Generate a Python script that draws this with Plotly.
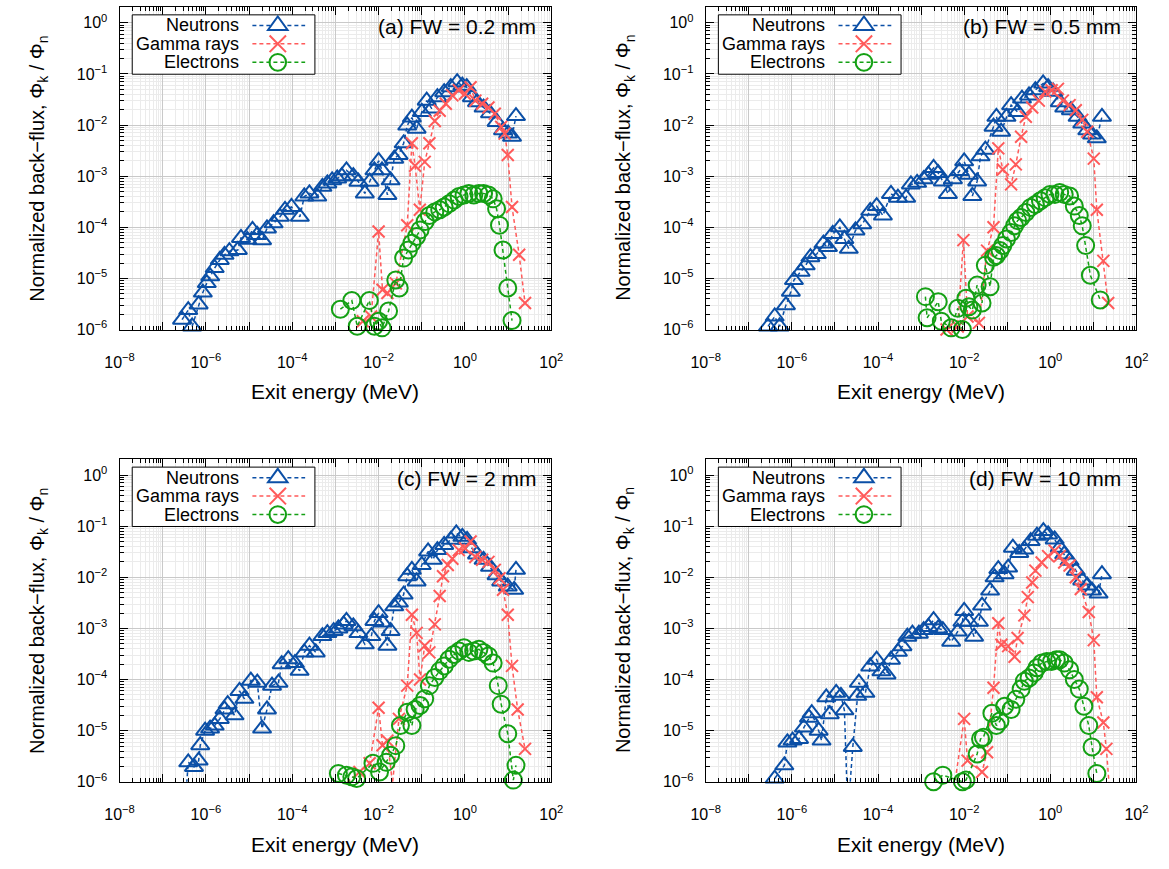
import plotly.graph_objects as go

# ---------------- data ----------------
# Panel (a) FW = 0.2 mm
a_neu_E = [2.8e-7, 3.9e-7, 4.8e-7, 6.8e-7, 8.5e-7, 1.05e-6, 1.26e-6, 1.6e-6, 2.1e-6, 2.7e-6,
           3.5e-6, 5.5e-6, 6.5e-6, 9.1e-6, 1.2e-5, 1.55e-5, 2.0e-5, 2.6e-5, 3.7e-5, 5.2e-5,
           6.8e-5, 9.6e-5, 1.5e-4, 1.9e-4, 2.5e-4, 3.8e-4, 5.0e-4, 6.5e-4, 8.4e-4, 1.1e-3,
           1.4e-3, 1.8e-3, 2.6e-3, 3.4e-3, 4.8e-3, 6.2e-3, 8.0e-3, 1.0e-2, 1.2e-2, 1.6e-2,
           1.9e-2, 2.3e-2, 2.9e-2, 3.8e-2, 4.6e-2, 5.9e-2, 7.6e-2, 0.10, 0.13, 0.17,
           0.23, 0.33, 0.47, 0.66, 0.87, 1.1, 1.45, 1.9, 2.7, 3.8,
           5.4, 7.6, 10.0, 12.3, 15.2]
a_neu_F = [1.56e-6, 2.4e-6, 1.15e-6, 3.1e-6, 5.3e-6, 8.1e-6, 1.1e-5, 1.6e-5, 2.3e-5, 2.9e-5,
           3.4e-5, 3.6e-5, 6.2e-5, 5.7e-5, 8.9e-5, 7.1e-5, 5.6e-5, 9.5e-5, 1.2e-4, 1.6e-4,
           2.2e-4, 2.5e-4, 1.6e-4, 4.0e-4, 4.6e-4, 4.0e-4, 6.2e-4, 7.2e-4, 8.3e-4, 9.0e-4,
           1.0e-3, 1.3e-3, 1.0e-3, 7.8e-4, 4.6e-4, 7.8e-4, 1.3e-3, 2.0e-3, 1.3e-3, 4.3e-4,
           8.3e-4, 2.2e-3, 2.6e-3, 4.4e-3, 9.8e-3, 1.4e-2, 8.5e-3, 1.8e-2, 3.0e-2, 2.1e-2,
           3.5e-2, 4.4e-2, 5.5e-2, 6.9e-2, 5.9e-2, 5.5e-2, 3.5e-2, 2.8e-2, 2.2e-2, 1.7e-2,
           1.15e-2, 7.9e-3, 6.8e-3, 5.9e-3, 1.5e-2]
a_gam_E = [4.3e-3, 6.7e-3, 1.0e-2, 1.23e-2, 1.6e-2, 2.5e-2, 4.6e-2, 5.9e-2, 7.0e-2, 9.0e-2,
           0.117, 0.15, 0.2, 0.26, 0.36, 0.51, 0.72, 1.0, 1.35, 1.74,
           2.5, 3.5, 4.9, 6.9, 8.3, 9.8, 12.3, 18.0, 24.6]
a_gam_F = [1.45e-6, 1.8e-6, 8.3e-5, 6.0e-6, 5.2e-6, 8.0e-6, 1.1e-4, 4.4e-3, 1.6e-3, 2.2e-4,
           1.9e-3, 4.4e-3, 1.2e-2, 1.9e-2, 2.6e-2, 3.8e-2, 4.8e-2, 4.1e-2, 5.5e-2, 3.0e-2,
           2.6e-2, 2.2e-2, 1.66e-2, 9.2e-3, 6.8e-3, 2.6e-3, 2.5e-4, 2.9e-5, 3.3e-6]
a_ele_E = [1.3e-3, 2.4e-3, 3.2e-3, 6.1e-3, 8.0e-3, 1.0e-2, 1.2e-2, 1.7e-2, 2.5e-2, 3.0e-2,
           3.8e-2, 4.9e-2, 5.9e-2, 7.6e-2, 9.1e-2, 0.12, 0.15, 0.2, 0.26, 0.33,
           0.43, 0.56, 0.73, 0.95, 1.23, 1.6, 2.1, 2.7, 3.5, 4.5,
           5.4, 6.3, 7.6, 9.8, 12.3]
a_ele_F = [2.5e-6, 3.7e-6, 1.16e-6, 3.7e-6, 1.16e-6, 1.45e-6, 1.08e-6, 2.3e-6, 9.3e-6, 6.5e-6,
           2.5e-5, 3.6e-5, 4.9e-5, 6.6e-5, 8.9e-5, 1.3e-4, 1.7e-4, 2.0e-4, 2.2e-4, 2.5e-4,
           2.9e-4, 3.4e-4, 4.0e-4, 4.3e-4, 4.6e-4, 4.3e-4, 4.6e-4, 4.6e-4, 4.3e-4, 3.6e-4,
           2.3e-4, 1.1e-4, 3.6e-5, 6.5e-6, 1.5e-6]

# Panel (b) FW = 0.5 mm
b_neu_E = [2.8e-7, 4.0e-7, 5.2e-7, 7.3e-7, 9.5e-7, 1.12e-6, 1.6e-6, 2.1e-6, 2.7e-6, 3.8e-6,
           5.4e-6, 6.9e-6, 8.9e-6, 1.3e-5, 1.66e-5, 2.1e-5, 3.0e-5, 4.3e-5, 6.6e-5, 9.3e-5,
           1.3e-4, 2.0e-4, 2.9e-4, 4.5e-4, 5.8e-4, 8.1e-4, 1.15e-3, 1.48e-3, 1.95e-3, 2.5e-3,
           3.2e-3, 4.2e-3, 5.5e-3, 7.8e-3, 1.0e-2, 1.29e-2, 1.55e-2, 2.0e-2, 2.4e-2, 3.1e-2,
           4.8e-2, 5.6e-2, 7.2e-2, 9.6e-2, 0.123, 0.174, 0.22, 0.32, 0.45, 0.68,
           0.89, 1.17, 1.66, 2.1, 3.0, 4.3, 5.5, 7.2, 9.3, 12.0, 15.8]
b_neu_F = [1.15e-6, 1.8e-6, 1.15e-6, 3.0e-6, 5.5e-6, 9.3e-6, 1.35e-5, 1.8e-5, 2.6e-5, 3.0e-5,
           4.8e-5, 4.1e-5, 7.4e-5, 1.0e-4, 5.9e-5, 3.8e-5, 8.7e-5, 1.15e-4, 2.1e-4, 2.6e-4,
           1.7e-4, 4.5e-4, 3.8e-4, 3.8e-4, 6.9e-4, 7.4e-4, 8.7e-4, 1.07e-3, 1.45e-3, 1.15e-3,
           7.9e-4, 4.5e-4, 8.7e-4, 1.26e-3, 1.95e-3, 1.07e-3, 4.1e-4, 7.9e-4, 2.45e-3, 3.3e-3,
           9.3e-3, 1.45e-2, 7.4e-3, 1.45e-2, 2.45e-2, 1.8e-2, 3.3e-2, 3.8e-2, 4.8e-2, 6.5e-2,
           5.5e-2, 4.5e-2, 2.8e-2, 2.2e-2, 1.95e-2, 1.45e-2, 1.07e-2, 7.9e-3, 6.5e-3, 5.5e-3, 1.45e-2]
b_gam_E = [3.9e-3, 7.1e-3, 9.6e-3, 1.2e-2, 2.2e-2, 3.4e-2, 4.8e-2, 6.2e-2, 7.9e-2, 0.123,
           0.158, 0.21, 0.27, 0.38, 0.54, 0.76, 1.07, 1.5, 1.95, 2.8,
           3.9, 5.5, 7.2, 10.2, 12.0, 17.0, 22.0]
b_gam_F = [1.0e-6, 1.15e-6, 5.6e-5, 1.8e-6, 1.35e-6, 3.5e-5, 1.0e-4, 3.5e-3, 1.35e-3, 6.9e-4,
           1.7e-3, 5.9e-3, 1.45e-2, 2.2e-2, 3.0e-2, 4.5e-2, 4.8e-2, 5.1e-2, 3.0e-2, 2.45e-2,
           1.95e-2, 1.26e-2, 7.4e-3, 2.2e-3, 2.2e-4, 2.2e-5, 3.3e-6]
b_ele_E = [1.26e-3, 1.38e-3, 2.5e-3, 2.95e-3, 5.0e-3, 7.1e-3, 9.1e-3, 1.1e-2, 1.29e-2, 1.55e-2,
           2.0e-2, 2.6e-2, 3.1e-2, 4.0e-2, 4.8e-2, 5.6e-2, 6.8e-2, 7.9e-2, 9.6e-2, 0.123,
           0.148, 0.174, 0.21, 0.27, 0.35, 0.45, 0.59, 0.76, 0.98, 1.28,
           1.65, 2.1, 2.8, 3.6, 4.7, 5.5, 6.6, 8.5, 14.4]
b_ele_F = [4.4e-6, 1.7e-6, 3.5e-6, 1.45e-6, 1.08e-6, 2.6e-6, 1.0e-6, 4.1e-6, 2.8e-6, 2.4e-6,
           7.4e-6, 3.3e-6, 1.8e-5, 6.9e-6, 2.6e-5, 2.8e-5, 3.5e-5, 4.4e-5, 5.9e-5, 7.9e-5,
           1.07e-4, 1.35e-4, 1.55e-4, 1.95e-4, 2.45e-4, 2.8e-4, 3.3e-4, 3.8e-4, 4.4e-4, 4.4e-4,
           4.8e-4, 4.4e-4, 4.1e-4, 2.6e-4, 1.7e-4, 1.07e-4, 4.4e-5, 1.15e-5, 3.8e-6]

# Panel (c) FW = 2 mm
c_neu_E = [3.4e-7, 3.9e-7, 5.3e-7, 6.8e-7, 7.4e-7, 9.6e-7, 1.25e-6, 1.6e-6, 2.1e-6, 2.7e-6,
           3.2e-6, 4.6e-6, 6.0e-6, 7.8e-6, 1.1e-5, 1.55e-5, 2.0e-5, 2.6e-5, 3.4e-5, 4.8e-5,
           5.7e-5, 8.1e-5, 1.15e-4, 1.48e-4, 1.9e-4, 2.5e-4, 3.5e-4, 5.0e-4, 6.5e-4, 9.1e-4,
           1.17e-3, 1.55e-3, 1.8e-3, 2.6e-3, 3.4e-3, 4.8e-3, 6.8e-3, 8.0e-3, 1.0e-2, 1.23e-2,
           1.6e-2, 1.9e-2, 2.3e-2, 2.95e-2, 3.8e-2, 4.6e-2, 5.9e-2, 7.6e-2, 0.10, 0.14,
           0.18, 0.23, 0.33, 0.47, 0.63, 0.87, 1.12, 1.45, 1.9, 2.7,
           3.8, 5.4, 6.9, 9.8, 13.8, 15.2]
c_neu_F = [5.0e-7, 2.4e-6, 1.95e-6, 2.6e-6, 5.2e-6, 1.0e-5, 1.1e-5, 1.26e-5, 1.7e-5, 2.6e-5,
           3.3e-5, 2.0e-5, 6.0e-5, 4.2e-5, 9.5e-5, 8.7e-5, 1.1e-5, 2.6e-5, 7.6e-5, 8.7e-5,
           2.0e-4, 2.5e-4, 2.1e-4, 1.48e-4, 3.4e-4, 4.6e-4, 3.4e-4, 7.1e-4, 8.1e-4, 8.9e-4,
           1.0e-3, 1.2e-3, 1.4e-3, 1.1e-3, 8.1e-4, 4.9e-4, 7.1e-4, 1.4e-3, 2.0e-3, 1.3e-3,
           4.6e-4, 8.9e-4, 2.7e-3, 3.2e-3, 4.6e-3, 1.05e-2, 1.4e-2, 8.3e-3, 1.74e-2, 3.2e-2,
           2.2e-2, 3.4e-2, 4.3e-2, 5.4e-2, 7.2e-2, 6.2e-2, 5.4e-2, 3.7e-2, 2.8e-2, 2.2e-2,
           1.6e-2, 1.1e-2, 8.3e-3, 6.6e-3, 5.7e-3, 1.4e-2]
c_gam_E = [1.4e-3, 3.6e-3, 6.2e-3, 1.0e-2, 1.23e-2, 1.6e-2, 2.1e-2, 2.95e-2, 4.6e-2, 5.9e-2,
           7.6e-2, 9.1e-2, 0.117, 0.15, 0.2, 0.26, 0.31, 0.4, 0.51, 0.72,
           1.0, 1.35, 1.74, 2.5, 3.5, 4.9, 6.3, 7.6, 9.8, 12.3, 16.6, 24.6]
c_gam_F = [8.0e-7, 1.56e-6, 2.3e-6, 2.8e-5, 5.2e-6, 6.4e-6, 9.3e-7, 1.7e-5, 7.6e-5, 1.85e-3,
           8.2e-4, 1.0e-4, 4.6e-4, 3.4e-4, 1.2e-3, 4.3e-3, 1.05e-2, 1.74e-2, 2.3e-2, 3.4e-2,
           3.7e-2, 5.0e-2, 2.5e-2, 2.2e-2, 2.0e-2, 1.4e-2, 9.6e-3, 5.7e-3, 1.85e-3, 1.85e-4,
           2.6e-5, 4.4e-6]
c_ele_E = [1.17e-3, 1.8e-3, 2.4e-3, 3.1e-3, 7.4e-3, 1.05e-2, 1.5e-2, 1.9e-2, 2.5e-2, 3.2e-2,
           4.6e-2, 5.9e-2, 7.0e-2, 9.1e-2, 0.117, 0.15, 0.2, 0.26, 0.33, 0.43,
           0.56, 0.73, 0.95, 1.23, 1.6, 2.1, 2.7, 3.5, 4.5, 5.9,
           6.9, 9.8, 13.2, 15.2]
c_ele_F = [1.45e-6, 1.35e-6, 1.25e-6, 1.16e-6, 2.3e-6, 1.56e-6, 2.4e-6, 3.3e-6, 5.1e-6, 1.26e-5,
           2.3e-5, 1.26e-5, 2.6e-5, 3.1e-5, 4.2e-5, 7.6e-5, 1.1e-4, 1.48e-4, 1.85e-4, 2.5e-4,
           3.1e-4, 3.6e-4, 4.2e-4, 3.4e-4, 3.6e-4, 3.9e-4, 3.4e-4, 2.9e-4, 2.1e-4, 7.6e-5,
           3.3e-5, 8.7e-6, 1.08e-6, 2.1e-6]

# Panel (d) FW = 10 mm
d_neu_E = [4.0e-7, 6.7e-7, 7.9e-7, 1.04e-6, 1.47e-6, 1.9e-6, 2.5e-6, 2.9e-6, 4.2e-6, 4.9e-6,
           6.3e-6, 7.6e-6, 1.07e-5, 1.38e-5, 1.66e-5, 2.0e-5, 2.6e-5, 3.3e-5, 3.6e-5, 5.1e-5,
           6.6e-5, 9.3e-5, 1.2e-4, 1.58e-4, 2.0e-4, 2.9e-4, 3.7e-4, 4.8e-4, 6.3e-4, 8.9e-4,
           1.15e-3, 1.48e-3, 1.95e-3, 2.5e-3, 3.2e-3, 5.0e-3, 7.1e-3, 9.1e-3, 1.0e-2, 1.29e-2,
           1.7e-2, 2.2e-2, 2.6e-2, 4.0e-2, 5.1e-2, 6.2e-2, 8.7e-2, 0.105, 0.135, 0.19,
           0.25, 0.35, 0.49, 0.69, 0.89, 1.26, 1.65, 2.1, 2.8, 3.9,
           5.5, 7.2, 9.3, 13.2, 15.8]
d_neu_F = [1.16e-6, 2.1e-6, 5.9e-6, 6.4e-6, 6.9e-6, 1.15e-5, 1.8e-5, 2.2e-5, 1.0e-5, 6.4e-6,
           4.5e-5, 2.1e-5, 5.5e-5, 4.8e-5, 2.5e-5, 2.3e-7, 4.8e-6, 4.8e-5, 8.7e-5, 5.5e-5,
           1.8e-4, 2.45e-4, 1.45e-4, 1.26e-4, 2.45e-4, 3.5e-4, 4.5e-4, 6.9e-4, 7.9e-4, 7.9e-4,
           9.3e-4, 1.07e-3, 1.45e-3, 1.0e-3, 9.3e-4, 5.5e-4, 8.7e-4, 1.35e-3, 2.2e-3, 1.35e-3,
           6.9e-4, 1.35e-3, 2.8e-3, 5.5e-3, 1.0e-2, 1.45e-2, 1.15e-2, 1.55e-2, 3.8e-2, 3.0e-2,
           3.5e-2, 5.1e-2, 6.5e-2, 8.0e-2, 6.9e-2, 5.5e-2, 3.8e-2, 2.8e-2, 2.1e-2, 1.35e-2,
           8.7e-3, 6.9e-3, 5.5e-3, 4.8e-3, 1.15e-2]
d_gam_E = [5.9e-3, 1.0e-2, 1.2e-2, 2.6e-2, 3.4e-2, 4.8e-2, 6.2e-2, 7.3e-2, 0.105, 0.148,
           0.174, 0.25, 0.3, 0.38, 0.45, 0.63, 0.89, 1.26, 1.65, 2.1,
           2.8, 3.9, 5.1, 7.8, 10.2, 12.0, 17.0, 20.0, 24.0]
d_gam_F = [8.0e-7, 1.7e-5, 2.6e-6, 1.56e-6, 3.8e-6, 6.9e-5, 1.26e-3, 4.8e-4, 4.5e-4, 2.8e-4,
           6.5e-4, 1.8e-3, 4.1e-3, 7.9e-3, 1.35e-2, 1.95e-2, 2.6e-2, 3.3e-2, 2.6e-2, 1.95e-2,
           1.7e-2, 1.0e-2, 5.9e-3, 2.1e-3, 5.9e-4, 4.5e-5, 1.45e-5, 4.4e-6, 6.0e-7]
d_ele_E = [1.95e-3, 3.2e-3, 9.1e-3, 1.1e-2, 2.0e-2, 2.4e-2, 2.8e-2, 4.4e-2, 5.6e-2, 6.8e-2,
           8.7e-2, 0.123, 0.158, 0.21, 0.25, 0.32, 0.42, 0.49, 0.63, 0.83,
           1.07, 1.38, 1.65, 2.1, 2.8, 3.6, 4.7, 6.0, 7.8, 9.3, 12.0]
d_ele_F = [1.0e-6, 1.35e-6, 1.0e-6, 1.08e-6, 3.5e-6, 6.9e-6, 7.4e-6, 2.2e-5, 1.26e-5, 1.55e-5,
           3.0e-5, 2.6e-5, 4.1e-5, 6.5e-5, 9.3e-5, 1.07e-4, 1.35e-4, 1.7e-4, 2.1e-4, 2.25e-4,
           2.25e-4, 2.45e-4, 2.45e-4, 2.1e-4, 1.55e-4, 1.0e-4, 6.5e-5, 3.0e-5, 1.26e-5, 4.8e-6,
           1.45e-6]

panel_labels = ["(a) FW = 0.2 mm", "(b) FW = 0.5 mm", "(c) FW = 2 mm", "(d) FW = 10 mm"]
series_names = ["Neutrons", "Gamma rays", "Electrons"]
x_tick_exponents = list(range(-8, 3))
y_tick_exponents = list(range(-6, 1))
x_title = "Exit energy (MeV)"
y_title = "Normalized back\u2212flux, \u03a6<sub>k</sub> / \u03a6<sub>n</sub>"

# ---------------- styling ----------------
FONT = "Liberation Sans, Arial, Helvetica, sans-serif"
W, H = 1169, 869
COL = {"Neutrons": "#0b4fa6", "Gamma rays": "#ff5a5a", "Electrons": "#14a014"}
SYM = {"Neutrons": ("triangle-up-open", 16), "Gamma rays": ("x-thin-open", 12),
       "Electrons": ("circle-open", 17)}
DASH = "4px,3px"

# panel pixel boxes: (left, right, top, bottom)
boxes = [(107, 549, 7, 333), (707, 1148, 7, 333), (107, 549, 464, 790), (707, 1148, 464, 790)]

panels = [
    [(a_neu_E, a_neu_F), (a_gam_E, a_gam_F), (a_ele_E, a_ele_F)],
    [(b_neu_E, b_neu_F), (b_gam_E, b_gam_F), (b_ele_E, b_ele_F)],
    [(c_neu_E, c_neu_F), (c_gam_E, c_gam_F), (c_ele_E, c_ele_F)],
    [(d_neu_E, d_neu_F), (d_gam_E, d_gam_F), (d_ele_E, d_ele_F)],
]


def sup(e):
    s = str(e).replace("-", "\u2212")
    return "10<sup>" + s + "</sup>"


def px(x):
    return x / W


def py(y):
    return 1 - y / H


x_minor = [m * 10.0 ** d for d in range(-8, 2) for m in range(2, 10)]
y_minor = [m * 10.0 ** d for d in range(-6, 1) for m in range(2, 10)]

fig = go.Figure()
layout = dict(
    width=W, height=H, margin=dict(l=0, r=0, t=0, b=0),
    paper_bgcolor="white", plot_bgcolor="white",
    font=dict(family=FONT, color="black", size=16),
    showlegend=False, annotations=[], shapes=[],
)

for i, (series, box) in enumerate(zip(panels, boxes)):
    n = i + 1
    xa = "x" if n == 1 else "x%d" % n
    ya = "y" if n == 1 else "y%d" % n
    for name, (E, F) in zip(series_names, series):
        sym, size = SYM[name]
        fig.add_trace(go.Scatter(
            x=E, y=F, name=name, mode="lines+markers", xaxis=xa, yaxis=ya,
            cliponaxis=False, showlegend=False,
            line=dict(color=COL[name], width=1.5, dash=DASH),
            marker=dict(symbol=sym, size=size, color=COL[name],
                        line=dict(color=COL[name], width=2)),
        ))
    l, r, t, b = box
    xdom = [l / W, r / W]
    ydom = [1 - b / H, 1 - t / H]
    common = dict(
        type="log", showline=True, linecolor="black", linewidth=1, mirror="allticks",
        ticks="inside", ticklen=8, tickwidth=1, tickcolor="black",
        showgrid=True, gridcolor="#c9c9c9", gridwidth=1, zeroline=False,
        tickfont=dict(size=16, family=FONT, color="black"),
    )
    layout["xaxis" + ("" if n == 1 else str(n))] = dict(
        common, domain=xdom, anchor=ya, range=[-8, 2],
        tickvals=[10.0 ** k for k in x_tick_exponents],
        ticktext=[sup(k) if k % 2 == 0 else "" for k in x_tick_exponents],
        ticklabelstandoff=18,
        minor=dict(tickvals=x_minor, ticks="inside", ticklen=4, tickcolor="black",
                   showgrid=True, gridcolor="#ebebeb", gridwidth=1),
    )
    layout["yaxis" + ("" if n == 1 else str(n))] = dict(
        common, domain=ydom, anchor=xa, range=[-6, 0.31],
        tickvals=[10.0 ** k for k in y_tick_exponents],
        ticktext=[sup(k) for k in y_tick_exponents],
        ticklabelstandoff=8,
        minor=dict(tickvals=y_minor, ticks="inside", ticklen=4, tickcolor="black",
                   showgrid=True, gridcolor="#ebebeb", gridwidth=1),
    )

    # ---- key box (gnuplot style: text on the left, sample on the right) ----
    bx0, bx1, by0, by1 = l + 13, l + 200, t + 8, t + 68
    layout["shapes"].append(dict(
        type="rect", xref="paper", yref="paper", x0=px(bx0), x1=px(bx1), y0=py(by1), y1=py(by0),
        line=dict(color="black", width=1), fillcolor="white", layer="above"))
    row_y = [t + 18.7, t + 37.3, t + 56.0]
    tx, lx0, lx1, mx = l + 124, l + 136, l + 190, l + 162
    for name, yy in zip(series_names, row_y):
        c = COL[name]
        layout["annotations"].append(dict(
            text=name, xref="paper", yref="paper", x=px(tx), y=py(yy),
            xanchor="right", yanchor="middle", showarrow=False,
            font=dict(size=18, family=FONT, color="black")))
        layout["shapes"].append(dict(
            type="line", xref="paper", yref="paper", x0=px(lx0), x1=px(lx1), y0=py(yy), y1=py(yy),
            line=dict(color=c, width=1.5, dash=DASH), layer="above"))
        if name == "Neutrons":
            rt, r2, rr = 10.0, 4.6, 9.0
            path = "M%f,%f L%f,%f L%f,%f Z" % (px(mx - rt), py(yy + r2), px(mx + rt), py(yy + r2),
                                                px(mx), py(yy - rr))
            layout["shapes"].append(dict(type="path", xref="paper", yref="paper", path=path,
                                         line=dict(color=c, width=2), fillcolor="white", layer="above"))
        elif name == "Gamma rays":
            d = 8.4
            path = "M%f,%f L%f,%f M%f,%f L%f,%f" % (px(mx - d), py(yy - d), px(mx + d), py(yy + d),
                                                   px(mx - d), py(yy + d), px(mx + d), py(yy - d))
            layout["shapes"].append(dict(type="path", xref="paper", yref="paper", path=path,
                                         line=dict(color=c, width=2), layer="above"))
        else:
            rc = 8.5
            layout["shapes"].append(dict(type="circle", xref="paper", yref="paper",
                                         x0=px(mx - rc), x1=px(mx + rc), y0=py(yy + rc), y1=py(yy - rc),
                                         line=dict(color=c, width=2), layer="above"))

    # panel label
    layout["annotations"].append(dict(
        text=panel_labels[i], xref="paper", yref="paper",
        x=px(r - 14), y=py(t + 20), xanchor="right", yanchor="middle",
        showarrow=False, font=dict(size=21, family=FONT, color="black")))
    # x-axis title
    layout["annotations"].append(dict(
        text=x_title, xref="paper", yref="paper",
        x=px((l + r) / 2), y=py(b + 63), xanchor="center", yanchor="middle",
        showarrow=False, font=dict(size=21, family=FONT, color="black")))
    # y-axis title
    layout["annotations"].append(dict(
        text=y_title, xref="paper", yref="paper", textangle=-90,
        x=px(l - 83), y=py((t + b) / 2), xanchor="center", yanchor="middle",
        showarrow=False, font=dict(size=20, family=FONT, color="black")))

fig.update_layout(**layout)
fig.write_html("out.html")
